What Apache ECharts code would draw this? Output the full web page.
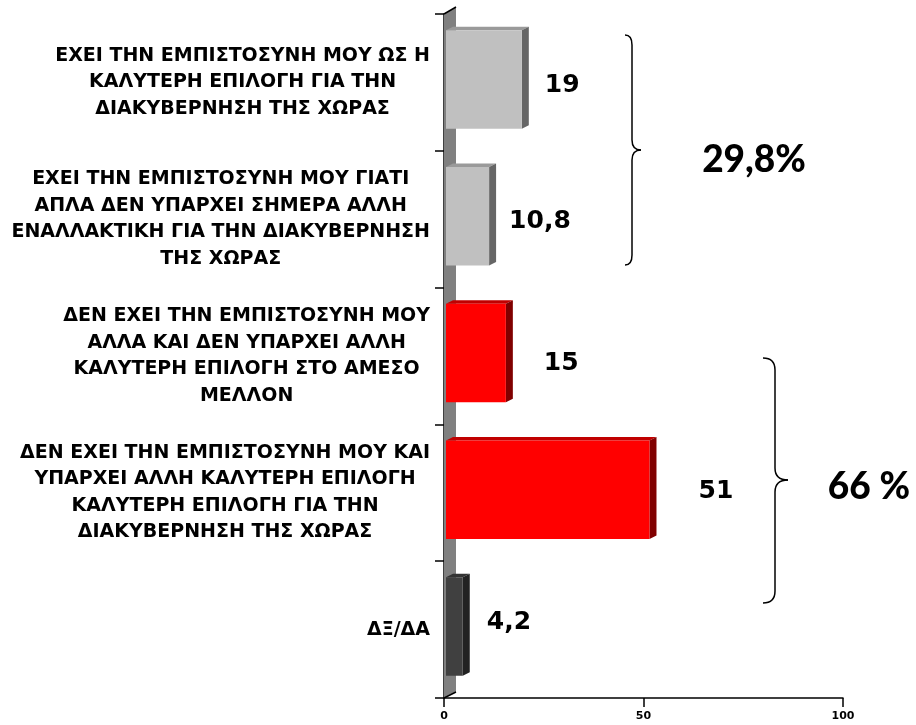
<!DOCTYPE html>
<html>
<head>
<meta charset="utf-8">
<script src="https://cdn.jsdelivr.net/npm/echarts@6/dist/echarts.min.js"></script>
<style>
  html, body { margin: 0; padding: 0; background: #fff; }
  #main { width: 916px; height: 725px; }
</style>
</head>
<body>
<div id="main"></div>
<script>
// κατηγορίες (από πάνω προς τα κάτω)
const categories = [
  'ΕΧΕΙ ΤΗΝ ΕΜΠΙΣΤΟΣΥΝΗ ΜΟΥ ΩΣ Η\nΚΑΛΥΤΕΡΗ ΕΠΙΛΟΓΗ ΓΙΑ ΤΗΝ\nΔΙΑΚΥΒΕΡΝΗΣΗ ΤΗΣ ΧΩΡΑΣ',
  'ΕΧΕΙ ΤΗΝ ΕΜΠΙΣΤΟΣΥΝΗ ΜΟΥ ΓΙΑΤΙ\nΑΠΛΑ ΔΕΝ ΥΠΑΡΧΕΙ ΣΗΜΕΡΑ ΑΛΛΗ\nΕΝΑΛΛΑΚΤΙΚΗ ΓΙΑ ΤΗΝ ΔΙΑΚΥΒΕΡΝΗΣΗ\nΤΗΣ ΧΩΡΑΣ',
  'ΔΕΝ ΕΧΕΙ ΤΗΝ ΕΜΠΙΣΤΟΣΥΝΗ ΜΟΥ\nΑΛΛΑ ΚΑΙ ΔΕΝ ΥΠΑΡΧΕΙ ΑΛΛΗ\nΚΑΛΥΤΕΡΗ ΕΠΙΛΟΓΗ ΣΤΟ ΑΜΕΣΟ\nΜΕΛΛΟΝ',
  'ΔΕΝ ΕΧΕΙ ΤΗΝ ΕΜΠΙΣΤΟΣΥΝΗ ΜΟΥ ΚΑΙ\nΥΠΑΡΧΕΙ ΑΛΛΗ ΚΑΛΥΤΕΡΗ ΕΠΙΛΟΓΗ\nΚΑΛΥΤΕΡΗ ΕΠΙΛΟΓΗ ΓΙΑ ΤΗΝ\nΔΙΑΚΥΒΕΡΝΗΣΗ ΤΗΣ ΧΩΡΑΣ',
  'ΔΞ/ΔΑ'
];
// ποσοστά
const values = [19, 10.8, 15, 51, 4.2];
// σύνολα ομάδων (δεξιά, με άγκιστρα)
const groupTotals = ['29,8%', '66 %'];

// χρώματα 3Δ ράβδων
const grey = { front: '#c0c0c0', top: '#9a9a9a', side: '#666666' };
const red = { front: '#ff0000', top: '#c00000', side: '#800000' };
const dark = { front: '#404040', top: '#333333', side: '#222222' };
const barStyles = [grey, grey, red, red, dark];
// μετατόπιση ετικετών τιμών από το άκρο της ράβδου [dx, dy]
const labelShift = [[16, 6], [13, 5], [31, 10], [42, 2], [17, -4]];

const FONT = '"DejaVu Sans", Verdana, sans-serif';
const BIG = 'Lato, "Open Sans", sans-serif';
const DX = 7, DY = 3.5;

function renderBar(params, api) {
  const i = api.value(1);
  const v = api.value(0);
  const p0 = api.coord([0, i]);
  const p1 = api.coord([v, i]);
  const h = api.size([0, 1])[1] * 0.72;
  const top = p0[1] - 3 - h / 2;
  const bot = top + h;
  const x0 = p0[0] + 2, x1 = p1[0] + 2;
  const c = barStyles[i];
  const kids = [];

  // τοίχος του άξονα (μόνο μία φορά)
  if (params.dataIndex === 0) {
    const cs = params.coordSys;
    const gx = cs.x, gy = cs.y, gh = cs.height;
    kids.push({
      type: 'polygon',
      shape: { points: [[gx, gy], [gx + 12, gy - 7], [gx + 12, gy + gh - 6], [gx, gy + gh]] },
      style: { fill: '#808080' }
    });
    kids.push({ type: 'line', shape: { x1: gx, y1: gy, x2: gx + 12, y2: gy - 7 }, style: { stroke: '#000', lineWidth: 1.5 } });
    kids.push({ type: 'line', shape: { x1: gx, y1: gy + gh, x2: gx + 12, y2: gy + gh - 6 }, style: { stroke: '#000', lineWidth: 1.5 } });
  }

  kids.push({
    type: 'polygon',
    shape: { points: [[x0, top], [x0 + DX, top - DY], [x1 + DX, top - DY], [x1, top]] },
    style: { fill: c.top }
  });
  kids.push({
    type: 'polygon',
    shape: { points: [[x1, top], [x1 + DX, top - DY], [x1 + DX, bot - DY], [x1, bot]] },
    style: { fill: c.side }
  });
  kids.push({
    type: 'rect',
    shape: { x: x0, y: top, width: x1 - x0, height: h },
    style: { fill: c.front }
  });
  kids.push({
    type: 'text',
    style: {
      text: String(v).replace('.', ','),
      x: x1 + DX + labelShift[i][0],
      y: (top + bot) / 2 + labelShift[i][1],
      fill: '#000',
      font: 'bold 25px ' + FONT,
      align: 'left',
      verticalAlign: 'middle'
    }
  });
  return { type: 'group', children: kids };
}

// άγκιστρο ως καμπύλες + γραμμές
function brace(xl, xs, xt, y1, ym, y2, r) {
  const st = { stroke: '#000', lineWidth: 1.5, fill: 'none' };
  return [
    { type: 'bezierCurve', shape: { x1: xl, y1: y1, x2: xs, y2: y1 + r, cpx1: xs, cpy1: y1 }, style: st },
    { type: 'line', shape: { x1: xs, y1: y1 + r, x2: xs, y2: ym - r }, style: st },
    { type: 'bezierCurve', shape: { x1: xs, y1: ym - r, x2: xt, y2: ym, cpx1: xs, cpy1: ym }, style: st },
    { type: 'bezierCurve', shape: { x1: xt, y1: ym, x2: xs, y2: ym + r, cpx1: xs, cpy1: ym }, style: st },
    { type: 'line', shape: { x1: xs, y1: ym + r, x2: xs, y2: y2 - r }, style: st },
    { type: 'bezierCurve', shape: { x1: xs, y1: y2 - r, x2: xl, y2: y2, cpx1: xs, cpy1: y2 }, style: st }
  ];
}

const chart = echarts.init(document.getElementById('main'));
chart.setOption({
  backgroundColor: '#fff',
  animation: false,
  grid: { left: 444, right: 73, top: 14, bottom: 27 },
  xAxis: {
    type: 'value',
    min: 0,
    max: 100,
    interval: 50,
    axisLine: { show: true, lineStyle: { color: '#000', width: 1.5 } },
    axisTick: { show: true, length: 9, lineStyle: { color: '#000', width: 1.5 } },
    axisLabel: { color: '#000', fontFamily: FONT, fontWeight: 'bold', fontSize: 11, margin: 13 },
    splitLine: { show: false }
  },
  yAxis: {
    type: 'category',
    inverse: true,
    data: categories,
    axisLine: { show: true, lineStyle: { color: '#000', width: 1.5 } },
    axisTick: { show: true, length: 9, lineStyle: { color: '#000', width: 1.5 } },
    axisLabel: {
      interval: 0,
      align: 'right',
      margin: 14,
      formatter: function (s) {
        return s.split('\n').map(function (l) { return '{c|' + l + '}'; }).join('\n');
      },
      rich: {
        c: { align: 'center', color: '#000', fontFamily: FONT, fontWeight: 'bold', fontSize: 19, lineHeight: 26.5 }
      }
    }
  },
  series: [{
    type: 'custom',
    data: values.map(function (v, i) { return [v, i]; }),
    encode: { x: 0, y: 1 },
    renderItem: renderBar,
    clip: false
  }],
  graphic: [].concat(
    brace(625, 632, 641, 35, 150, 265, 10),
    brace(763, 775, 788, 358, 480, 603, 12),
    [
      { type: 'text', x: 754, y: 160, style: { text: groupTotals[0], font: '900 37px ' + BIG, fill: '#000', align: 'center', verticalAlign: 'middle' } },
      { type: 'text', x: 869, y: 487, style: { text: groupTotals[1], font: '900 37px ' + BIG, fill: '#000', align: 'center', verticalAlign: 'middle' } }
    ]
  )
});
</script>
</body>
</html>
